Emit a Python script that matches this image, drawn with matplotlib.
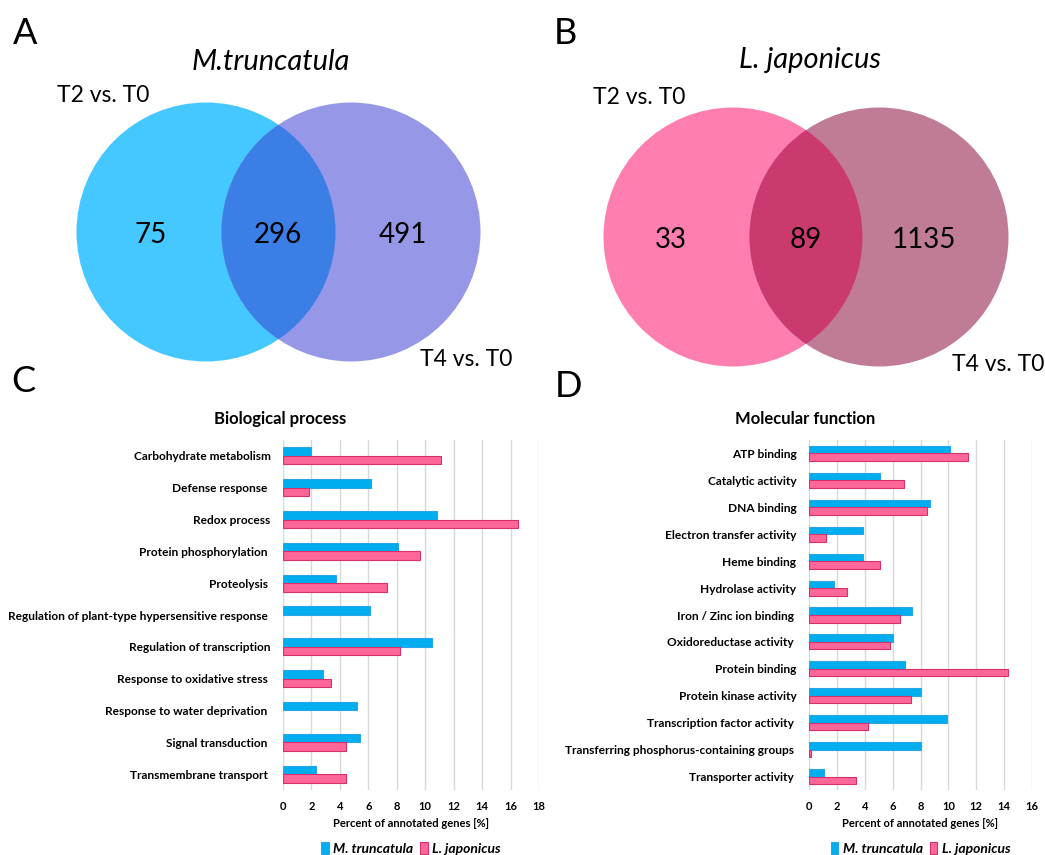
import numpy as np
import matplotlib
matplotlib.use('Agg')
import matplotlib.pyplot as plt
from matplotlib.patches import Circle

plt.rcParams['font.family'] = ['Lato', 'DejaVu Sans']

# Venn counts
mt_counts = [75, 296, 491]      # T2 only, both, T4 only
lj_counts = [33, 89, 1135]
venn_sets = ['T2 vs. T0', 'T4 vs. T0']

# Biological process (%)
bp_terms = ['Carbohydrate metabolism', 'Defense response ', 'Redox process',
            'Protein phosphorylation ', 'Proteolysis ',
            'Regulation of plant-type hypersensitive response ',
            'Regulation of transcription', 'Response to oxidative stress ',
            'Response to water deprivation ', 'Signal transduction ',
            'Transmembrane transport ']
bp_mt = [2.0, 6.2, 10.8, 8.1, 3.7, 6.1, 10.5, 2.8, 5.2, 5.4, 2.3]
bp_lj = [11.1, 1.8, 16.5, 9.6, 7.3, 0.0, 8.2, 3.4, 0.0, 4.4, 4.4]

# Molecular function (%)
mf_terms = ['ATP binding', 'Catalytic activity', 'DNA binding',
            'Electron transfer activity', 'Heme binding', 'Hydrolase activity',
            'Iron / Zinc ion binding ', 'Oxidoreductase activity ',
            'Protein binding', 'Protein kinase activity',
            'Transcription factor activity ',
            'Transferring phosphorus-containing groups ', 'Transporter activity ']
mf_mt = [10.1, 5.1, 8.7, 3.9, 3.9, 1.8, 7.4, 6.0, 6.9, 8.0, 9.9, 8.0, 1.1]
mf_lj = [11.4, 6.8, 8.5, 1.2, 5.1, 2.7, 6.5, 5.8, 14.3, 7.3, 4.2, 0.15, 3.4]

W, H = 1045, 855
fig = plt.figure(figsize=(W / 100, H / 100), dpi=100)

# overlay axes in pixel coordinates for the Venn panels and panel letters
ov = fig.add_axes([0, 0, 1, 1], zorder=0)
ov.set_xlim(0, W)
ov.set_ylim(H, 0)
ov.axis('off')


def venn(cx1, cx2, cy, r, c1, c2, c12, counts, xs):
    a = Circle((cx1, cy), r, color=c1, lw=0)
    b = Circle((cx2, cy), r, color=c2, lw=0)
    ov.add_patch(a)
    ov.add_patch(b)
    ab = Circle((cx2, cy), r, color=c12, lw=0)
    ov.add_patch(ab)
    ab.set_clip_path(a)
    for x, n in zip(xs, counts):
        ov.text(x, cy + 3, str(n), fontsize=20, ha='center', va='center', color='black')


venn(206, 351, 232, 129.5, '#45C8FF', '#9797E7', '#3B7EE6', mt_counts, [151, 278, 403])
venn(733, 879, 237, 129.5, '#FF7EB0', '#C07C97', '#CB3A6F', lj_counts, [671, 806, 924])

ov.text(25, 33, 'A', fontsize=26, ha='center', va='center')
ov.text(565, 34, 'B', fontsize=26, ha='center', va='center')
ov.text(23, 381, 'C', fontsize=26, ha='center', va='center')
ov.text(568, 386, 'D', fontsize=26, ha='center', va='center')
ov.text(271, 62, 'M.truncatula', fontsize=21, style='italic', ha='center', va='center')
ov.text(810, 60, 'L. japonicus', fontsize=21, style='italic', ha='center', va='center')
ov.text(103, 96, venn_sets[0], fontsize=16.5, ha='center', va='center')
ov.text(466, 359, venn_sets[1], fontsize=16.5, ha='center', va='center')
ov.text(639, 97, venn_sets[0], fontsize=16.5, ha='center', va='center')
ov.text(998, 364, venn_sets[1], fontsize=16.5, ha='center', va='center')

# chart titles sit centred over the whole panel, labels included
ov.text(280, 419, 'Biological process', fontsize=12, fontweight='bold', ha='center', va='center')
ov.text(805, 419, 'Molecular function', fontsize=12, fontweight='bold', ha='center', va='center')


def bar_panel(rect, terms, mt, lj, xmax, h):
    ax = fig.add_axes(rect, zorder=2)
    ax.patch.set_alpha(0)
    y = np.arange(len(terms))
    ax.barh(y - h / 2, mt, height=h, color='#00AEEF', edgecolor='#2AA5E6',
            lw=[0.8 if v > 0 else 0 for v in mt], label='M. truncatula', zorder=3)
    ax.barh(y + h / 2, lj, height=h, color='#FF6699', edgecolor='#D6306A',
            lw=[0.8 if v > 0 else 0 for v in lj], label='L. japonicus', zorder=3)
    ax.set_ylim(len(terms) - 0.5, -0.5)
    ax.set_xlim(0, xmax)
    ax.set_xticks(np.arange(0, xmax + 1, 2))
    ax.set_yticks(y)
    ax.set_yticklabels(terms, fontsize=8.6, fontweight='bold')
    for lab in ax.get_xticklabels():
        lab.set_fontweight('bold')
    ax.tick_params(axis='x', length=0, labelsize=8, pad=8)
    ax.tick_params(axis='y', length=0, pad=9)
    ax.grid(axis='x', color='#D9D9D9', lw=1, zorder=0)
    ax.set_axisbelow(True)
    for s in ax.spines.values():
        s.set_visible(False)
    ax.set_xlabel('Percent of annotated genes [%]', fontsize=8, fontweight='bold', labelpad=4)
    ax.legend(loc='upper center', bbox_to_anchor=(0.5, -0.133), ncol=2,
              frameon=False, handlelength=0.55, handleheight=0.9,
              handletextpad=0.3, columnspacing=0.5, borderaxespad=0,
              prop={'size': 10, 'weight': 'bold', 'style': 'italic'})
    return ax


top, bot = 440, 790
bar_panel([283 / W, 1 - bot / H, 256 / W, (bot - top) / H], bp_terms, bp_mt, bp_lj, 18, 0.27)
bar_panel([809 / W, 1 - bot / H, 223 / W, (bot - top) / H], mf_terms, mf_mt, mf_lj, 16, 0.28)

fig.savefig('out.png', dpi=100, facecolor='white')
